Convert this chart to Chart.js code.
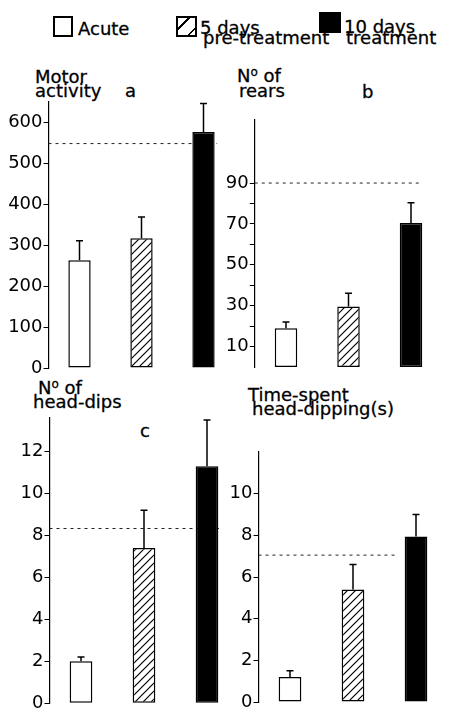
<!DOCTYPE html>
<html>
<head>
<meta charset="utf-8">
<script src="https://cdn.jsdelivr.net/npm/chart.js@4/dist/chart.umd.min.js"></script>
<style>
  html, body { margin: 0; padding: 0; background: #fff; overflow: hidden; }
  body { position: relative; width: 452px; height: 712px; }
  canvas { position: absolute; }
  .t {
    position: absolute;
    font: 18px 'DejaVu Sans', sans-serif;
    line-height: 14px;
    color: #000;
    white-space: nowrap;
    -webkit-text-stroke: 0.3px #000;
  }
  .sup { font-size: 12px; position: relative; top: -6px; }
  .key { position: absolute; box-sizing: border-box; }
</style>
</head>
<body>

<!-- legend -->
<div class="key" style="left:53px;top:16px;width:20px;height:21px;border:2px solid #000;background:#fff"></div>
<div class="t" style="left:78px;top:22px">Acute</div>
<div class="key" style="left:176px;top:16px;width:21px;height:21px;border:2px solid #000;background:repeating-linear-gradient(135deg,#fff 0 7px,#000 7px 8.5px,#fff 8.5px 12px)"></div>
<div class="t" style="left:200px;top:21px">5 days</div>
<div class="t" style="left:203px;top:31px">pre-treatment</div>
<div class="key" style="left:319px;top:12px;width:22px;height:21px;background:#000"></div>
<div class="t" style="left:344px;top:20px">10 days</div>
<div class="t" style="left:346px;top:31px">treatment</div>

<!-- panel titles -->
<div class="t" style="left:35px;top:70px">Motor</div>
<div class="t" style="left:35px;top:84px">activity</div>
<div class="t" style="left:125px;top:84px">a</div>
<div class="t" style="left:237px;top:69px">N<span class="sup">o</span> of</div>
<div class="t" style="left:239px;top:84px">rears</div>
<div class="t" style="left:362px;top:85px">b</div>
<div class="t" style="left:38px;top:381px">N<span class="sup">o</span> of</div>
<div class="t" style="left:33px;top:395px">head-dips</div>
<div class="t" style="left:140px;top:424px">c</div>
<div class="t" style="left:248px;top:388px">Time-spent</div>
<div class="t" style="left:252px;top:402px">head-dipping(s)</div>

<canvas id="chartA" width="242" height="290" style="left:0;top:90px"></canvas>
<canvas id="chartB" width="226" height="290" style="left:226px;top:90px"></canvas>
<canvas id="chartC" width="245" height="310" style="left:0;top:405px"></canvas>
<canvas id="chartD" width="226" height="275" style="left:226px;top:440px"></canvas>

<script>
// ===== 1. DATA =====
const groups = ['Acute', '5 days pre-treatment', '10 days treatment'];

// a - motor activity
const motorMeans = [263, 317, 576];
const motorErrors = [48, 52, 70];
const motorControl = 548;
const motorTicks = [0, 100, 200, 300, 400, 500, 600];

// b - number of rears
const rearsMeans = [19, 29.6, 70.4];
const rearsErrors = [3, 6.5, 10];
const rearsControl = 90;
const rearsTicks = [10, 20, 30, 40, 50, 60, 70, 80, 90];
const rearsLabels = [10, 30, 50, 70, 90];

// c - number of head-dips
const dipsMeans = [2.0, 7.4, 11.3];
const dipsErrors = [0.2, 1.8, 2.2];
const dipsControl = 8.33;
const dipsTicks = [0, 2, 4, 6, 8, 10, 12];

// d - time spent head-dipping (s)
const timeMeans = [1.2, 5.4, 7.95];
const timeErrors = [0.3, 1.2, 1.05];
const timeControl = 7.05;
const timeTicks = [0, 2, 4, 6, 8, 10];

// ===== 2. HATCH PATTERN FOR THE MIDDLE BAR =====
function makeHatch(ctx) {
  const tile = document.createElement('canvas');
  tile.width = 8;
  tile.height = 8;
  const g = tile.getContext('2d');
  g.fillStyle = '#fff';
  g.fillRect(0, 0, 8, 8);
  g.strokeStyle = '#000';
  g.lineWidth = 1.2;
  g.beginPath();
  g.moveTo(0, 8); g.lineTo(8, 0);
  g.moveTo(-1, 1); g.lineTo(1, -1);
  g.moveTo(7, 9); g.lineTo(9, 7);
  g.stroke();
  return ctx.createPattern(tile, 'repeat');
}

// ===== 3. PLUGINS: ERROR BARS + DASHED CONTROL LINE =====
const errorBars = {
  id: 'errorBars',
  afterDatasetsDraw: function(chart) {
    const ds = chart.data.datasets[0];
    const y = chart.scales.y;
    const ctx = chart.ctx;
    ctx.save();
    ctx.strokeStyle = '#000';
    ctx.lineWidth = 1.5;
    chart.getDatasetMeta(0).data.forEach(function(bar, i) {
      const top = y.getPixelForValue(ds.data[i] + ds.errors[i]);
      ctx.beginPath();
      ctx.moveTo(bar.x, bar.y);
      ctx.lineTo(bar.x, top);
      ctx.moveTo(bar.x - 3.5, top);
      ctx.lineTo(bar.x + 3.5, top);
      ctx.stroke();
    });
    ctx.restore();
  }
};

const controlLine = {
  id: 'controlLine',
  beforeDatasetsDraw: function(chart, args, opts) {
    const x = chart.scales.x;
    const yPix = chart.scales.y.getPixelForValue(opts.value);
    const ctx = chart.ctx;
    ctx.save();
    ctx.strokeStyle = '#222';
    ctx.lineWidth = 1;
    ctx.setLineDash([3, 4]);
    ctx.beginPath();
    ctx.moveTo(x.getPixelForValue(-0.5), yPix);
    ctx.lineTo(x.getPixelForValue(opts.end), yPix);
    ctx.stroke();
    ctx.restore();
  }
};

// ===== 4. BUILD ONE PANEL =====
function makePanel(id, means, errors, control, ticks, labelled, yMax, look) {
  const ctx = document.getElementById(id).getContext('2d');

  return new Chart(ctx, {
    type: 'bar',
    data: {
      labels: groups,
      datasets: [{
        data: means,
        errors: errors,
        backgroundColor: ['#fff', makeHatch(ctx), '#000'],
        borderColor: '#000',
        borderWidth: 1.5,
        borderSkipped: false,
        barPercentage: 0.36,
        categoryPercentage: 1
      }]
    },
    options: {
      responsive: false,
      animation: false,
      layout: { padding: look.padding },
      plugins: {
        legend: { display: false },
        tooltip: { enabled: false },
        controlLine: { value: control, end: look.dashEnd }
      },
      scales: {
        x: { display: false },
        y: {
          min: 0,
          max: yMax,
          afterBuildTicks: function(axis) {
            axis.ticks = ticks.map(function(v) { return { value: v }; });
          },
          afterFit: function(axis) {
            axis.width = look.axisWidth;
          },
          grid: { drawOnChartArea: false, drawTicks: true, tickLength: 5, color: '#000', lineWidth: 1 },
          border: { display: true, color: '#000', width: 1.2 },
          ticks: {
            color: '#000',
            padding: 1,
            font: { family: 'DejaVu Sans', size: 18 },
            callback: function(v) {
              return labelled.includes(v) ? String(v) : '';
            }
          }
        }
      }
    },
    plugins: [controlLine, errorBars]
  });
}

// ===== 5. DRAW THE FOUR PANELS =====
makePanel('chartA', motorMeans, motorErrors, motorControl, motorTicks, motorTicks, 650,
  { axisWidth: 48.5, dashEnd: 2.22, padding: { left: 0, right: 7.5, top: 11.5, bottom: 12 } });

makePanel('chartB', rearsMeans, rearsErrors, rearsControl, rearsTicks, rearsLabels, 121,
  { axisWidth: 28.75, dashEnd: 2.14, padding: { left: 0, right: 9.75, top: 29.7, bottom: 13 } });

makePanel('chartC', dipsMeans, dipsErrors, dipsControl, dipsTicks, dipsTicks, 13.6,
  { axisWidth: 49.5, dashEnd: 2.19, padding: { left: 0, right: 6.5, top: 13, bottom: 11 } });

makePanel('chartD', timeMeans, timeErrors, timeControl, timeTicks, timeTicks, 12,
  { axisWidth: 32.5, dashEnd: 1.67, padding: { left: 0, right: 4.5, top: 12, bottom: 13 } });
</script>
</body>
</html>
